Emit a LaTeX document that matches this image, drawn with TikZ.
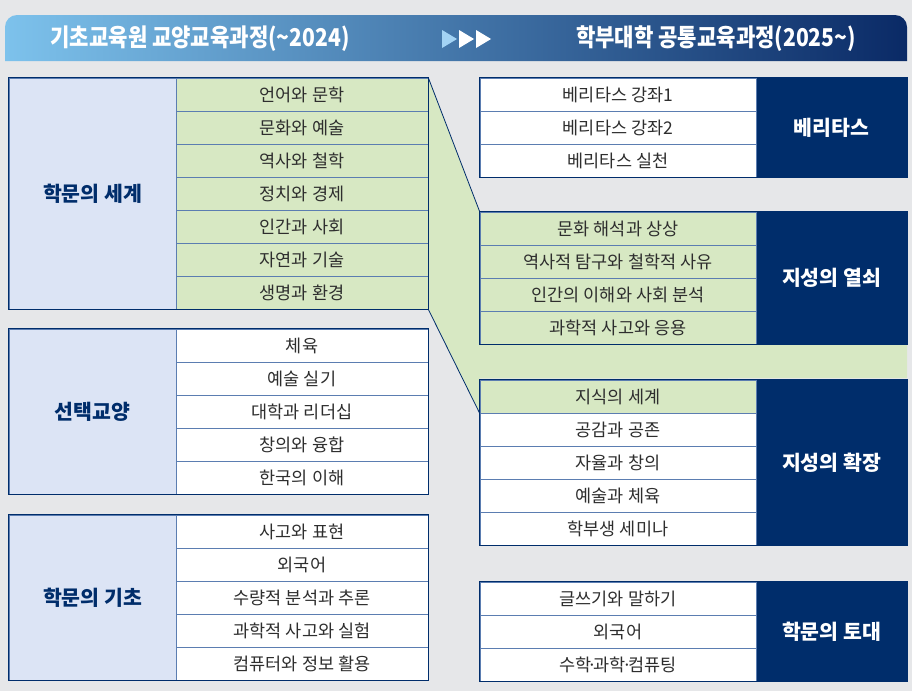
\documentclass[tikz,border=0pt]{standalone}
\usepackage{fontspec}
\setmainfont{Noto Sans CJK KR}
\newfontfamily\hdrfont{Noto Sans CJK KR}[FakeStretch=0.86]
\usetikzlibrary{positioning,calc,backgrounds}

\definecolor{bgGray}{HTML}{E6E7E9}
\definecolor{navy}{HTML}{002D6B}
\definecolor{lineBlue}{HTML}{5B7DB1}
\definecolor{leafGreen}{HTML}{D7E8C3}
\definecolor{lavender}{HTML}{DCE4F5}
\definecolor{skyBlue}{HTML}{7DC2EC}
\definecolor{midBlue}{HTML}{2F6AAA}
\definecolor{deepBlue}{HTML}{0A2A66}
\definecolor{textGray}{HTML}{2E2E2E}
\definecolor{tipBlue}{HTML}{A3D3F4}

\newcommand{\middot}{\kern-0.22em·\kern-0.22em}

\begin{document}
\begin{tikzpicture}[
  x=1pt, y=-1pt,
  cell/.style    = {draw=lineBlue, line width=0.6pt, minimum height=33pt, inner sep=0pt,
                    font=\fontsize{17.5}{17.5}\selectfont, text=textGray},
  oldcell/.style = {cell, minimum width=252pt, fill=white},
  newcell/.style = {cell, minimum width=276pt, fill=white},
  oldhead/.style = {draw=lineBlue, fill=lavender, minimum width=167pt, inner sep=0pt,
                    font=\fontsize{20.5}{20.5}\selectfont\bfseries, text=navy},
  newhead/.style = {fill=navy, minimum width=151pt, inner sep=0pt,
                    font=\fontsize{20.5}{20.5}\selectfont\bfseries, text=white},
  hdrtext/.style = {text=white, inner sep=0pt, font=\hdrfont\bfseries\fontsize{24.5}{24.5}\selectfont},
  frame/.style   = {draw=navy, line width=1.3pt},
  funnel/.style  = {draw=navy, line width=0.8pt}
]
  % header bar
  \shade[left color=skyBlue, middle color=midBlue, right color=deepBlue]
    (5,61) -- (5,40) [rounded corners=12pt] -- (5,15) -- (907,15) -- (907,40)
    [sharp corners] -- (907,61) -- cycle;
  \node[hdrtext] (hdrOld) at (200,39) {기초교육원 교양교육과정(\textasciitilde2024)};
  \node[hdrtext] (hdrNew) at (716,39) {학부대학 공통교육과정(2025\textasciitilde)};
  \foreach \x/\c in {442/tipBlue,459/white,476/white}
    \fill[\c] (\x,30) -- (\x+15,39) -- (\x,48) -- cycle;

  % left side: old curriculum
  \node[oldhead, minimum height=231pt] (w1) at (92.5,193.5) {학문의 세계};
  \foreach \t [count=\i] in {언어와 문학,문화와 예술,역사와 철학,정치와 경제,인간과 사회,자연과 기술,생명과 환경}
    \node[oldcell, fill=leafGreen] (w1-\i) at (302,{78+33*\i-16.5}) {\t};

  \node[oldhead, minimum height=165pt] (w2) at (92.5,411.5) {선택교양};
  \foreach \t [count=\i] in {체육,예술 실기,대학과 리더십,창의와 융합,한국의 이해}
    \node[oldcell] (w2-\i) at (302,{329+33*\i-16.5}) {\t};

  \node[oldhead, minimum height=165pt] (w3) at (92.5,597.5) {학문의 기초};
  \foreach \t [count=\i] in {사고와 표현,외국어,수량적 분석과 추론,과학적 사고와 실험,컴퓨터와 정보 활용}
    \node[oldcell] (w3-\i) at (302,{515+33*\i-16.5}) {\t};

  % right side: new curriculum
  \node[newhead, minimum height=99pt] (n1) at (831.5,127.5) {베리타스};
  \foreach \t [count=\i] in {베리타스 강좌1,베리타스 강좌2,베리타스 실천}
    \node[newcell] (n1-\i) at (618,{78+33*\i-16.5}) {\t};

  \node[newhead, minimum height=132pt] (n2) at (831.5,278) {지성의 열쇠};
  \foreach \t [count=\i] in {문화 해석과 상상,역사적 탐구와 철학적 사유,인간의 이해와 사회 분석,과학적 사고와 응용}
    \node[newcell, fill=leafGreen] (n2-\i) at (618,{212+33*\i-16.5}) {\t};

  \node[newhead, minimum height=165pt] (n3) at (831.5,462.5) {지성의 확장};
  \foreach \t [count=\i] in {지식의 세계,공감과 공존,자율과 창의,예술과 체육,학부생 세미나}
    \node[newcell] (n3-\i) at (618,{380+33*\i-16.5}) {\t};
  \node[newcell, fill=leafGreen] at (n3-1) {지식의 세계};

  \node[newhead, minimum height=99pt] (n4) at (831.5,631.5) {학문의 토대};
  \foreach \t [count=\i] in {글쓰기와 말하기,외국어,수학\middot 과학\middot 컴퓨팅}
    \node[newcell] (n4-\i) at (618,{582+33*\i-16.5}) {\t};

  % block frames
  \draw[frame] (w1.north west) rectangle (w1-7.south east);
  \draw[frame] (w2.north west) rectangle (w2-5.south east);
  \draw[frame] (w3.north west) rectangle (w3-5.south east);
  \draw[frame] (n1-1.north west) rectangle (n1.south east);
  \draw[frame] (n2-1.north west) rectangle (n2.south east);
  \draw[frame] (n3-1.north west) rectangle (n3.south east);
  \draw[frame] (n4-1.north west) rectangle (n4.south east);

  % green funnel from old to new
  \begin{scope}[on background layer]
    \fill[bgGray] (0,0) rectangle (912,691);
    \fill[leafGreen] (w1-1.north east) -- (n2-1.north west) -- (n2.north east)
      -- ($(n2.south east)+(0,34)$) -- ($(n2-4.south west)+(0,34)$)
      -- (n3-1.south west) -- (w1-7.south east) -- cycle;
  \end{scope}
  \draw[funnel] (w1-1.north east) -- (n2-1.north west);
  \draw[funnel] (w1-7.south east) -- (n3-1.south west);
\end{tikzpicture}
\end{document}
